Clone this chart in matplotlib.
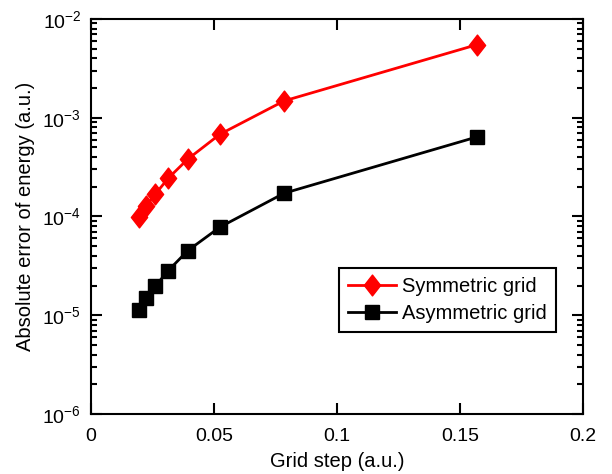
import numpy as np
import matplotlib
matplotlib.use("Agg")
import matplotlib.pyplot as plt
from matplotlib.path import Path
from matplotlib.ticker import LogLocator, FuncFormatter, NullFormatter

plt.rcParams.update({
    "font.family": ["Liberation Sans", "DejaVu Sans"],
    "font.size": 14,
    "mathtext.default": "regular",
    "axes.linewidth": 1.5,
})

# grid steps (pi/20 ... pi/160)
grid_step = [0.157, 0.0785, 0.0524, 0.0393, 0.0314, 0.0262, 0.0224, 0.0196]
err_symmetric = [5.5e-3, 1.48e-3, 6.8e-4, 3.8e-4, 2.44e-4, 1.69e-4, 1.28e-4, 9.9e-5]
err_asymmetric = [6.4e-4, 1.72e-4, 7.8e-5, 4.5e-5, 2.83e-5, 1.98e-5, 1.48e-5, 1.13e-5]

x_ticks = [0, 0.05, 0.1, 0.15, 0.2]

# slightly tall diamond, like the MATLAB marker
diamond = Path([(0, 1), (0.78, 0), (0, -1), (-0.78, 0), (0, 1)],
               [Path.MOVETO, Path.LINETO, Path.LINETO, Path.LINETO, Path.CLOSEPOLY])

fig = plt.figure(figsize=(6.12, 4.74), dpi=100)
ax = fig.add_axes([0.1487, 0.1266, 0.8039, 0.8334])

ax.semilogy(grid_step, err_symmetric, color="#ff0000", lw=2, marker=diamond,
            ms=15, mec="#ff0000", mfc="#ff0000", label="Symmetric grid")
ax.semilogy(grid_step, err_asymmetric, color="black", lw=2, marker="s",
            ms=9.5, mec="black", mfc="black", label="Asymmetric grid")

ax.set_xlim(0, 0.2)
ax.set_ylim(1e-6, 1e-2)
ax.set_xticks(x_ticks)
ax.xaxis.set_major_formatter(FuncFormatter(lambda v, p: "%g" % v))
ax.yaxis.set_major_locator(LogLocator(base=10, numticks=10))
ax.yaxis.set_minor_locator(LogLocator(base=10, subs=np.arange(2, 10), numticks=10))
ax.yaxis.set_minor_formatter(NullFormatter())

ax.tick_params(which="both", direction="in", top=True, right=True, width=1.5)
ax.tick_params(which="major", length=8, labelsize=14)
ax.tick_params(axis="x", which="major", pad=10)
ax.tick_params(axis="y", which="major", pad=7)
ax.tick_params(which="minor", length=4.5)

ax.set_xlabel("Grid step (a.u.)", fontsize=14.5, labelpad=5)
ax.set_ylabel("Absolute error of energy (a.u.)", fontsize=14.5, labelpad=5)

leg = ax.legend(loc="lower right", bbox_to_anchor=(0.945, 0.207),
                borderaxespad=0, fancybox=False, edgecolor="black",
                framealpha=1, handlelength=2.4, handletextpad=0.3,
                borderpad=0.45, labelspacing=0.4, fontsize=14.5)
leg.get_frame().set_linewidth(1.5)

fig.savefig("out.png", dpi=100)
